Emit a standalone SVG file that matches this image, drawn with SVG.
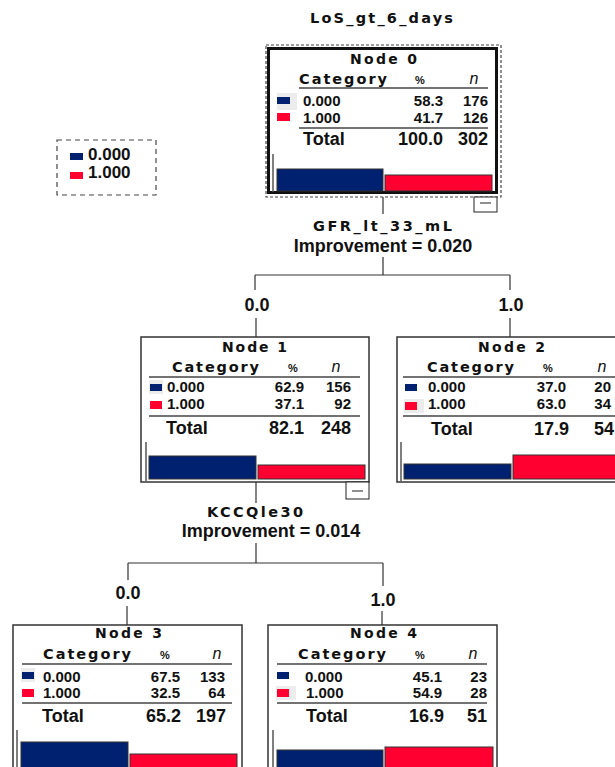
<svg xmlns="http://www.w3.org/2000/svg" width="615" height="767" viewBox="0 0 615 767">
<style>
.w{font-family:"DejaVu Sans",Verdana,sans-serif;font-weight:bold;font-size:14.5px;fill:#111}
.h{font-size:14px}
.t{font-family:"Liberation Sans",Arial,sans-serif;font-weight:bold;font-size:15px;fill:#111}
.tt{font-family:"Liberation Sans",Arial,sans-serif;font-weight:bold;font-size:18px;fill:#111}
.pc{font-family:"Liberation Sans",Arial,sans-serif;font-weight:bold;font-size:11px;fill:#111}
.n{font-family:"Liberation Sans",Arial,sans-serif;font-style:italic;font-size:16px;fill:#111}
.r{text-anchor:end}
.m{text-anchor:middle}
.box{fill:#fff;stroke:#333;stroke-width:1.5}
.ln{stroke:#333;stroke-width:1.2;fill:none}
.sep{stroke:#444;stroke-width:1.3}
.blue{fill:#002070;stroke:#333;stroke-width:1}
.red{fill:#ff0030;stroke:#333;stroke-width:1}
.sb{fill:#002070}
.sr{fill:#ff0030}
.hl{fill:#ececec}
.ax{stroke:#555;stroke-width:1.5}
</style>
<rect width="615" height="767" fill="#fff"/>

<g id="legend">
<rect x="57" y="140" width="99" height="55" fill="#fff" stroke="#444" stroke-width="1.2" stroke-dasharray="5,4"/>
<rect x="70" y="153" width="13" height="7" class="sb"/>
<text x="88" y="160" class="t" style="font-size:17px">0.000</text>
<rect x="70" y="172" width="13" height="7" class="sr"/>
<text x="88" y="178" class="t" style="font-size:17px">1.000</text>
</g>

<g id="connectors">
<path class="ln" d="M383,193V214M383,257V275M255,275H510M255,275V290M510,275V290M256,318V337M510,318V337M256,482V503M256,543V563M128,563H383M128,563V580M383,563V586M127,606V625M382,611V625"/>
<text x="381.5" y="23" class="w m" textLength="143">LoS_gt_6_days</text>
<text x="382.5" y="231" class="w m" textLength="139">GFR_lt_33_mL</text>
<text x="383" y="252" class="tt m">Improvement = 0.020</text>
<text x="257" y="311" class="tt m">0.0</text>
<text x="511" y="311" class="tt m">1.0</text>
<text x="255" y="517" class="w m" textLength="96">KCCQle30</text>
<text x="271" y="537" class="tt m">Improvement = 0.014</text>
<text x="128" y="599" class="tt m">0.0</text>
<text x="383" y="606" class="tt m">1.0</text>
</g>

<g id="node0">
<rect x="266" y="45" width="235" height="152" fill="#fff" stroke="#444" stroke-width="1.2" stroke-dasharray="3,2"/>
<rect x="268.5" y="48.5" width="228" height="144" fill="#fff" stroke="#111" stroke-width="3"/>
<text x="383.5" y="64" class="w h m" textLength="67">Node 0</text>
<text x="299" y="84" class="w" textLength="88">Category</text>
<text x="420" y="84" class="pc m">%</text>
<text x="474" y="84" class="n m">n</text>
<line x1="299" y1="88" x2="488" y2="88" class="sep"/>
<rect x="277" y="93" width="20" height="17" class="hl"/>
<rect x="277" y="97" width="13" height="7" class="sb"/>
<text x="303" y="106" class="t">0.000</text>
<text x="443" y="106" class="t r">58.3</text>
<text x="488" y="106" class="t r">176</text>
<rect x="277" y="113" width="13" height="8" class="sr"/>
<text x="303" y="123" class="t">1.000</text>
<text x="443" y="123" class="t r">41.7</text>
<text x="488" y="123" class="t r">126</text>
<line x1="299" y1="128" x2="488" y2="128" class="sep"/>
<text x="303" y="145" class="tt">Total</text>
<text x="443" y="145" class="tt r">100.0</text>
<text x="488" y="145" class="tt r">302</text>
<line x1="273" y1="154" x2="273" y2="192" class="ax"/>
<rect x="277" y="169" width="106" height="22" class="blue"/>
<rect x="385" y="175" width="107" height="16" class="red"/>
<rect x="474" y="197" width="23" height="15" fill="#fff" stroke="#222" stroke-width="1"/>
<line x1="480" y1="203" x2="491" y2="203" stroke="#222" stroke-width="1"/>
</g>

<g id="node1">
<rect x="141" y="337" width="228" height="145" class="box"/>
<text x="254.5" y="352" class="w h m" textLength="65">Node 1</text>
<text x="172" y="372" class="w" textLength="87">Category</text>
<text x="293" y="372" class="pc m">%</text>
<text x="336" y="372" class="n m">n</text>
<line x1="149" y1="377" x2="360" y2="377" class="sep"/>
<rect x="149" y="380" width="14" height="14" class="hl"/>
<rect x="150" y="384" width="12" height="7" class="sb"/>
<text x="167" y="392" class="t">0.000</text>
<text x="304" y="392" class="t r">62.9</text>
<text x="351" y="392" class="t r">156</text>
<rect x="150" y="401" width="12" height="8" class="sr"/>
<text x="167" y="409" class="t">1.000</text>
<text x="304" y="409" class="t r">37.1</text>
<text x="351" y="409" class="t r">92</text>
<line x1="149" y1="416" x2="360" y2="416" class="sep"/>
<text x="166" y="434" class="tt">Total</text>
<text x="304" y="434" class="tt r">82.1</text>
<text x="351" y="434" class="tt r">248</text>
<line x1="146" y1="442" x2="146" y2="481" class="ax"/>
<rect x="149" y="456" width="107" height="23" class="blue"/>
<rect x="258" y="465" width="107" height="14" class="red"/>
<rect x="346" y="482" width="23" height="17" fill="#fff" stroke="#222" stroke-width="1"/>
<line x1="352" y1="491" x2="363" y2="491" stroke="#222" stroke-width="1"/>
</g>

<g id="node2">
<rect x="397" y="337" width="229" height="145" class="box"/>
<text x="511.5" y="352" class="w h m" textLength="67">Node 2</text>
<text x="427" y="372" class="w" textLength="87">Category</text>
<text x="548" y="372" class="pc m">%</text>
<text x="602" y="372" class="n m">n</text>
<line x1="403" y1="377" x2="620" y2="377" class="sep"/>
<rect x="405" y="384" width="12" height="7" class="sb"/>
<text x="428" y="392" class="t">0.000</text>
<text x="566" y="392" class="t r">37.0</text>
<text x="611" y="392" class="t r">20</text>
<rect x="404" y="399" width="20" height="14" class="hl"/>
<rect x="405" y="402" width="12" height="8" class="sr"/>
<text x="428" y="409" class="t">1.000</text>
<text x="566" y="409" class="t r">63.0</text>
<text x="611" y="409" class="t r">34</text>
<line x1="403" y1="416" x2="620" y2="416" class="sep"/>
<text x="431" y="435" class="tt">Total</text>
<text x="569" y="435" class="tt r">17.9</text>
<text x="614" y="435" class="tt r">54</text>
<line x1="401" y1="442" x2="401" y2="481" class="ax"/>
<rect x="404" y="464" width="107" height="15" class="blue"/>
<rect x="513" y="455" width="107" height="24" class="red"/>
</g>

<g id="node3">
<rect x="13" y="625" width="229" height="150" class="box"/>
<text x="128.5" y="638" class="w h m" textLength="67">Node 3</text>
<text x="43" y="659" class="w" textLength="88">Category</text>
<text x="165" y="659" class="pc m">%</text>
<text x="217" y="659" class="n m">n</text>
<line x1="22" y1="664" x2="232" y2="664" class="sep"/>
<rect x="21" y="668" width="14" height="14" class="hl"/>
<rect x="22" y="672" width="12" height="7" class="sb"/>
<text x="43" y="682" class="t">0.000</text>
<text x="180" y="682" class="t r">67.5</text>
<text x="225" y="682" class="t r">133</text>
<rect x="22" y="689" width="12" height="8" class="sr"/>
<text x="43" y="698" class="t">1.000</text>
<text x="180" y="698" class="t r">32.5</text>
<text x="225" y="698" class="t r">64</text>
<line x1="22" y1="703" x2="232" y2="703" class="sep"/>
<text x="42" y="722" class="tt">Total</text>
<text x="181" y="722" class="tt r">65.2</text>
<text x="226" y="722" class="tt r">197</text>
<line x1="17" y1="730" x2="17" y2="767" class="ax"/>
<rect x="21" y="742" width="107" height="30" class="blue"/>
<rect x="130" y="754" width="107" height="18" class="red"/>
</g>

<g id="node4">
<rect x="268" y="625" width="229" height="150" class="box"/>
<text x="383.5" y="638" class="w h m" textLength="67">Node 4</text>
<text x="298" y="659" class="w" textLength="88">Category</text>
<text x="420" y="659" class="pc m">%</text>
<text x="473" y="659" class="n m">n</text>
<line x1="277" y1="664" x2="487" y2="664" class="sep"/>
<rect x="277" y="672" width="12" height="7" class="sb"/>
<text x="305" y="682" class="t">0.000</text>
<text x="442" y="682" class="t r">45.1</text>
<text x="487" y="682" class="t r">23</text>
<rect x="276" y="686" width="20" height="14" class="hl"/>
<rect x="277" y="689" width="12" height="8" class="sr"/>
<text x="306" y="698" class="t">1.000</text>
<text x="442" y="698" class="t r">54.9</text>
<text x="487" y="698" class="t r">28</text>
<line x1="277" y1="703" x2="487" y2="703" class="sep"/>
<text x="306" y="722" class="tt">Total</text>
<text x="444" y="722" class="tt r">16.9</text>
<text x="487" y="722" class="tt r">51</text>
<line x1="273" y1="730" x2="273" y2="767" class="ax"/>
<rect x="277" y="750" width="106" height="22" class="blue"/>
<rect x="385" y="747" width="108" height="25" class="red"/>
</g>
</svg>
